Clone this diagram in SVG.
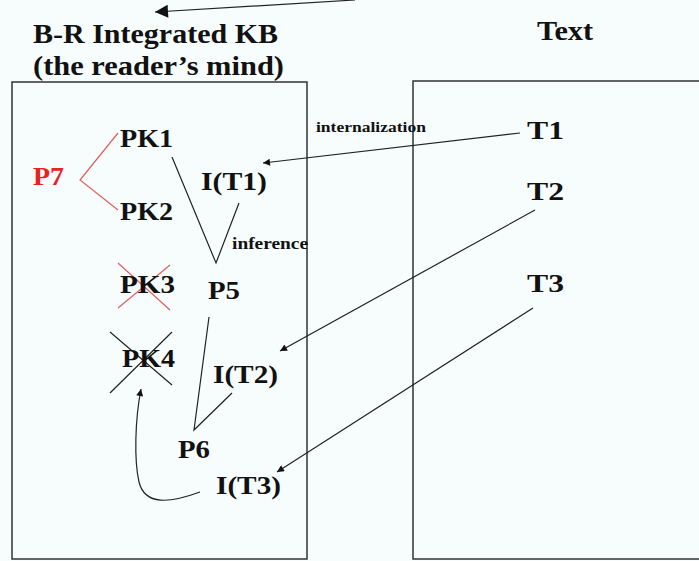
<svg xmlns="http://www.w3.org/2000/svg" width="699" height="561" viewBox="0 0 699 561">
<style>
  text { font-family: 'Liberation Serif', 'Times New Roman', Times, serif; font-weight: 700; fill: #111; }
  .node { font-size: 26px; }
  .title { font-size: 28px; }
  .lbl { font-size: 15px; }
  .red { fill: #e8221c; }
  .box { fill: #f7fcfd; stroke: #333; stroke-width: 1.5; }
  .ln { fill: none; stroke: #222; stroke-width: 1.2; }
  .rl { fill: none; stroke: #e06060; stroke-width: 1.2; }
</style>
<defs>
  <marker id="ah" viewBox="0 0 10 10" refX="10" refY="5" markerWidth="9" markerHeight="7" markerUnits="userSpaceOnUse" orient="auto">
    <path d="M0,0 L10,5 L0,10 z" fill="#111"/>
  </marker>
  <marker id="ahb" viewBox="0 0 10 10" refX="10" refY="5" markerWidth="16" markerHeight="13" markerUnits="userSpaceOnUse" orient="auto">
    <path d="M0,0 L10,5 L0,10 z" fill="#111"/>
  </marker>
</defs>
<rect width="699" height="561" fill="#f7fcfd"/>
<g id="boxes">
  <rect id="kb-box" class="box" x="12" y="82" width="295" height="477"/>
  <rect id="text-box" class="box" x="413" y="81" width="300" height="478"/>
</g>
<g id="titles">
  <text class="title" x="33" y="43" textLength="245" lengthAdjust="spacingAndGlyphs">B-R Integrated KB</text>
  <text class="title" x="33" y="75" textLength="251" lengthAdjust="spacingAndGlyphs">(the reader’s mind)</text>
  <text class="title" x="537" y="40" textLength="56" lengthAdjust="spacingAndGlyphs">Text</text>
</g>
<g id="connectors">
  <line class="ln" x1="355" y1="0" x2="155" y2="12" stroke-width="2.5" marker-end="url(#ahb)"/>
  <line class="ln" x1="520" y1="133" x2="263" y2="163" marker-end="url(#ah)"/>
  <line class="ln" x1="535" y1="210" x2="280" y2="351" marker-end="url(#ah)"/>
  <line class="ln" x1="533" y1="308" x2="277" y2="472" marker-end="url(#ah)"/>
  <polyline class="ln" points="172,157 216,263 239,203"/>
  <polyline class="ln" points="209,317 194,430 232,393"/>
  <polyline class="rl" points="118,133 80,180 118,210"/>
  <path class="ln" d="M200,492 C170,503 145,506 139,482 C134,460 135,420 141,389" marker-end="url(#ah)"/>
  <g id="strike-pk3">
    <line class="rl" x1="118" y1="263" x2="170" y2="310"/>
    <line class="rl" x1="118" y1="308" x2="170" y2="265"/>
  </g>
  <g id="strike-pk4">
    <line class="ln" x1="110" y1="332" x2="172" y2="385"/>
    <line class="ln" x1="110" y1="393" x2="172" y2="332"/>
  </g>
  <text class="lbl" x="316" y="132" textLength="110" lengthAdjust="spacingAndGlyphs">internalization</text>
  <text class="lbl" x="232" y="249" style="font-size:16px" textLength="76" lengthAdjust="spacingAndGlyphs">inference</text>
</g>
<g id="PK1"><text class="node" x="120" y="147" textLength="53" lengthAdjust="spacingAndGlyphs">PK1</text></g>
<g id="PK2"><text class="node" x="120" y="220" textLength="53" lengthAdjust="spacingAndGlyphs">PK2</text></g>
<g id="P7"><text class="node red" x="33" y="185" textLength="31" lengthAdjust="spacingAndGlyphs">P7</text></g>
<g id="IT1"><text class="node" x="201" y="190" textLength="66" lengthAdjust="spacingAndGlyphs">I(T1)</text></g>
<g id="PK3"><text class="node" x="120" y="293" textLength="55" lengthAdjust="spacingAndGlyphs">PK3</text></g>
<g id="P5"><text class="node" x="208" y="299" textLength="32" lengthAdjust="spacingAndGlyphs">P5</text></g>
<g id="PK4"><text class="node" x="122" y="367" textLength="53" lengthAdjust="spacingAndGlyphs">PK4</text></g>
<g id="IT2"><text class="node" x="213" y="383" textLength="65" lengthAdjust="spacingAndGlyphs">I(T2)</text></g>
<g id="P6"><text class="node" x="178" y="458" textLength="32" lengthAdjust="spacingAndGlyphs">P6</text></g>
<g id="IT3"><text class="node" x="216" y="494" textLength="65" lengthAdjust="spacingAndGlyphs">I(T3)</text></g>
<g id="T1"><text class="node" x="527" y="139" textLength="37" lengthAdjust="spacingAndGlyphs">T1</text></g>
<g id="T2"><text class="node" x="527" y="200" textLength="37" lengthAdjust="spacingAndGlyphs">T2</text></g>
<g id="T3"><text class="node" x="527" y="292" textLength="37" lengthAdjust="spacingAndGlyphs">T3</text></g>
</svg>
